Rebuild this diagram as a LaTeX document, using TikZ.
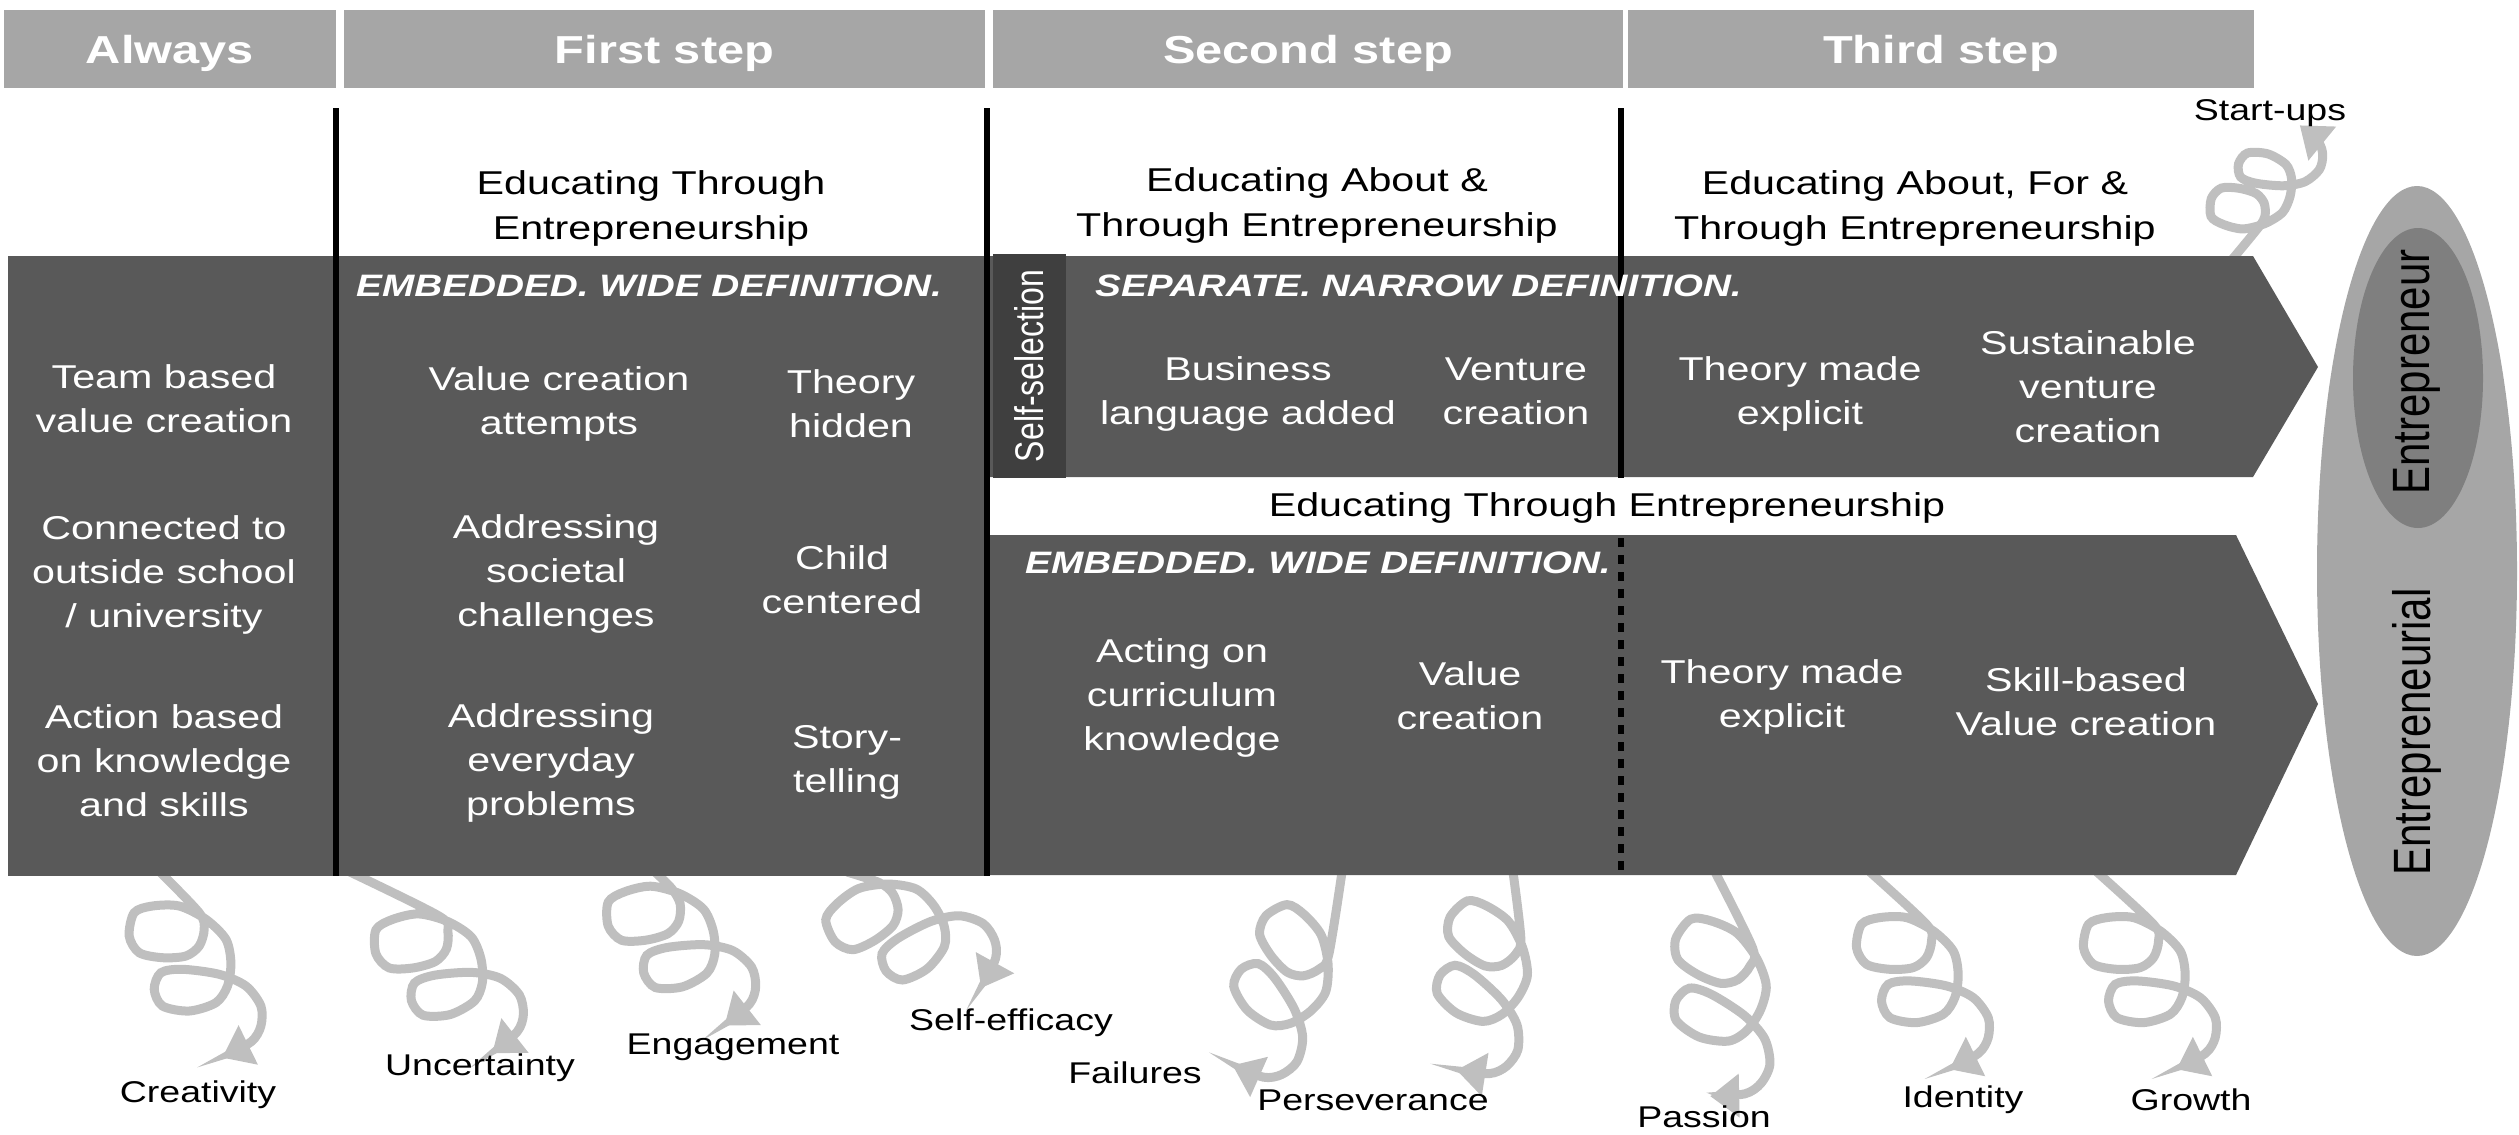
\documentclass[tikz,border=0pt]{standalone}
\usepackage{fontspec}
\usepackage{graphicx}
\setmainfont{Liberation Sans}[FakeStretch=1.25]
\newfontfamily\rotfont{Liberation Sans}
\usetikzlibrary{arrows.meta}
\definecolor{hdrgray}{HTML}{A6A6A6}
\definecolor{bandgray}{HTML}{595959}
\definecolor{selgray}{HTML}{3F3F3F}
\definecolor{ellouter}{HTML}{A6A6A6}
\definecolor{ellinner}{HTML}{7F7F7F}
\definecolor{curlgray}{HTML}{BFBFBF}
\newcommand{\myfs}[2]{\fontsize{#1}{#2}\selectfont}
\tikzset{
  hdrbox/.style={fill=hdrgray, text=white, font=\bfseries\myfs{39}{44}, inner sep=0pt, minimum height=78pt, text height=28pt, text depth=0pt},
  wtext/.style={text=white, align=center, font=\myfs{33}{44}, inner sep=0pt},
  btext/.style={text=black, align=center, font=\myfs{33}{45}, inner sep=0pt},
  ttl/.style={text=white, font=\bfseries\itshape\myfs{31}{36}, inner sep=0pt},
  lbl/.style={text=black, font=\myfs{30}{36}, inner sep=0pt},
  vline/.style={line width=6pt, black},
  curlline/.style={draw=curlgray, line width=9pt, -{Triangle[width=42pt,length=29pt]}},
  pics/curl/.style={code={
    \draw[curlline] plot[smooth] coordinates {(#1) (0,0) (5,-16.6) (0,-33.3) (-13.3,-43.3) (-36.7,-45) (-60,-40) (-70,-23.3) (-65,0) (-46.7,6.7) (-20,6.7) (6.7,-6.6) (26.7,-26.6) (31.7,-50) (28.3,-73.3) (16.7,-90) (-10,-98.3) (-36.7,-93.3) (-45,-76.6) (-38.3,-60) (-16.7,-56.6) (20,-61.6) (46.7,-73.3) (61.7,-93.3) (61.7,-113.3) (52,-129) (23,-145)};
  }}
}
\begin{document}
\begin{tikzpicture}[x=1pt,y=1pt]
\useasboundingbox (0,0) rectangle (2519,-1135);
% header boxes
\node[hdrbox, minimum width=332pt] (hA) at (170,-49) {Always};
\node[hdrbox, minimum width=641pt] (hB) at (664.5,-49) {First step};
\node[hdrbox, minimum width=630pt] (hC) at (1308,-49) {Second step};
\node[hdrbox, minimum width=626pt] (hD) at (1941,-49) {Third step};
% ellipses
\fill[ellouter] (2417,-571) ellipse [x radius=100, y radius=385];
\fill[ellinner] (2418,-378) ellipse [x radius=65, y radius=150];
\node[rotate=90, inner sep=0pt, font=\rotfont\myfs{42}{48}] (entr) at (2417,-372) {\scalebox{1}[1.25]{Entrepreneur}};
\node[rotate=90, inner sep=0pt, font=\rotfont\myfs{42}{48}] (entrial) at (2417,-732) {\scalebox{1}[1.25]{Entrepreneurial}};
% curly arrows (start points inside the bands)
\coordinate (b1) at (160,-872);
\coordinate (b2) at (350,-872);
\coordinate (b3) at (655,-872);
\coordinate (b4) at (847,-872);
\coordinate (b5) at (1342,-872);
\coordinate (b6) at (1513,-872);
\coordinate (b7) at (1715,-872);
\coordinate (b8) at (1870,-872);
\coordinate (b9) at (2097,-872);
\coordinate (b10) at (2230,-262);
\pic at (199.2,-912.7) {curl=b1};
\pic[rotate=12] at (439.5,-916.3) {curl=b2};
\pic[rotate=12] at (671.8,-888.6) {curl=b3};
\pic[rotate=35] at (879,-882.5) {curl=b4};
\pic[rotate=-50] at (1328.8,-954.4) {curl=b5};
\pic[rotate=-35] at (1520.8,-938.1) {curl=b6};
\pic[rotate=-25, scale=1.05] at (1752.6,-948) {curl=b7};
\pic at (1926.5,-924.3) {curl=b8};
\pic at (2153.5,-924.3) {curl=b9};
\pic[rotate=-13, yscale=-1, scale=0.75] at (2258.5,-227.4) {curl=b10};
% dark bands
\fill[bandgray] (8,-256) rectangle (987,-876);
\fill[bandgray] (987,-256) -- (2253,-256) -- (2318,-367) -- (2253,-477) -- (987,-477) -- cycle;
\fill[bandgray] (987,-535) -- (2236,-535) -- (2318,-704) -- (2236,-875) -- (987,-875) -- cycle;
\node[fill=selgray, rotate=90, minimum width=224pt, minimum height=73pt, inner sep=0pt, text=white, font=\rotfont\myfs{32}{38}] (sel) at (1029.5,-366) {\scalebox{1}[1.25]{Self-selection}};
% vertical lines
\coordinate (v1t) at (336,-108); \coordinate (v1b) at (336,-876);
\coordinate (v2t) at (987,-108); \coordinate (v2b) at (987,-876);
\coordinate (v3t) at (1621,-108); \coordinate (v3b) at (1621,-478);
\coordinate (v4t) at (1621,-538); \coordinate (v4b) at (1621,-875);
\draw[vline] (v1t) -- (v1b);
\draw[vline] (v2t) -- (v2b);
\draw[vline] (v3t) -- (v3b);
\draw[vline, dash pattern=on 9pt off 8pt] (v4t) -- (v4b);
% titles
\node[ttl] (e1) at (649,-286) {EMBEDDED. WIDE DEFINITION.};
\node[ttl, anchor=west] (e2) at (1095,-286) {SEPARATE. NARROW DEFINITION.};
\node[ttl, anchor=west] (e3) at (1025,-563) {EMBEDDED. WIDE DEFINITION.};
% white texts
\node[wtext] (t1) at (164,-399) {Team based\\value creation};
\node[wtext] (t2) at (164,-575) {Connected to\\outside school\\/ university};
\node[wtext] (t3) at (164,-761) {Action based\\on knowledge\\and skills};
\node[wtext] (f1) at (559,-404) {Value creation\\attempts};
\node[wtext] (f2) at (851,-404) {Theory\\hidden};
\node[wtext] (f3) at (556,-574) {Addressing\\societal\\challenges};
\node[wtext] (f4) at (842,-580) {Child\\centered};
\node[wtext] (f5) at (551,-763) {Addressing\\everyday\\problems};
\node[wtext] (f6) at (847,-762) {Story-\\telling};
\node[wtext] (s1) at (1248,-394) {Business\\language added};
\node[wtext] (s2) at (1516,-391) {Venture\\creation};
\node[wtext] (u1) at (1800,-394) {Theory made\\explicit};
\node[wtext] (u2) at (2088,-387) {Sustainable\\venture\\creation};
\node[wtext] (s3) at (1182,-698) {Acting on\\curriculum\\knowledge};
\node[wtext] (s4) at (1470,-696) {Value\\creation};
\node[wtext] (l1) at (1782,-697) {Theory made\\explicit};
\node[wtext] (l2) at (2086,-702) {Skill-based\\Value creation};
% black texts
\node[btext] (h1) at (651,-208) {Educating Through\\Entrepreneurship};
\node[btext] (h2) at (1317,-205) {Educating About \&\\Through Entrepreneurship};
\node[btext] (h3) at (1915,-208) {Educating About, For \&\\Through Entrepreneurship};
\node[btext] (m1) at (1607,-508) {Educating Through Entrepreneurship};
\node[lbl] (start) at (2270,-113) {Start-ups};
% bottom labels
\node[lbl] (c1) at (198,-1095) {Creativity};
\node[lbl] (c2) at (480,-1068) {Uncertainty};
\node[lbl] (c3) at (733,-1047) {Engagement};
\node[lbl] (c4) at (1011,-1023) {Self-efficacy};
\node[lbl] (c5) at (1135,-1073) {Failures};
\node[lbl] (c6) at (1373,-1100) {Perseverance};
\node[lbl] (c7) at (1704,-1117) {Passion};
\node[lbl] (c8) at (1963,-1100) {Identity};
\node[lbl] (c9) at (2191,-1100) {Growth};
\end{tikzpicture}
\end{document}
